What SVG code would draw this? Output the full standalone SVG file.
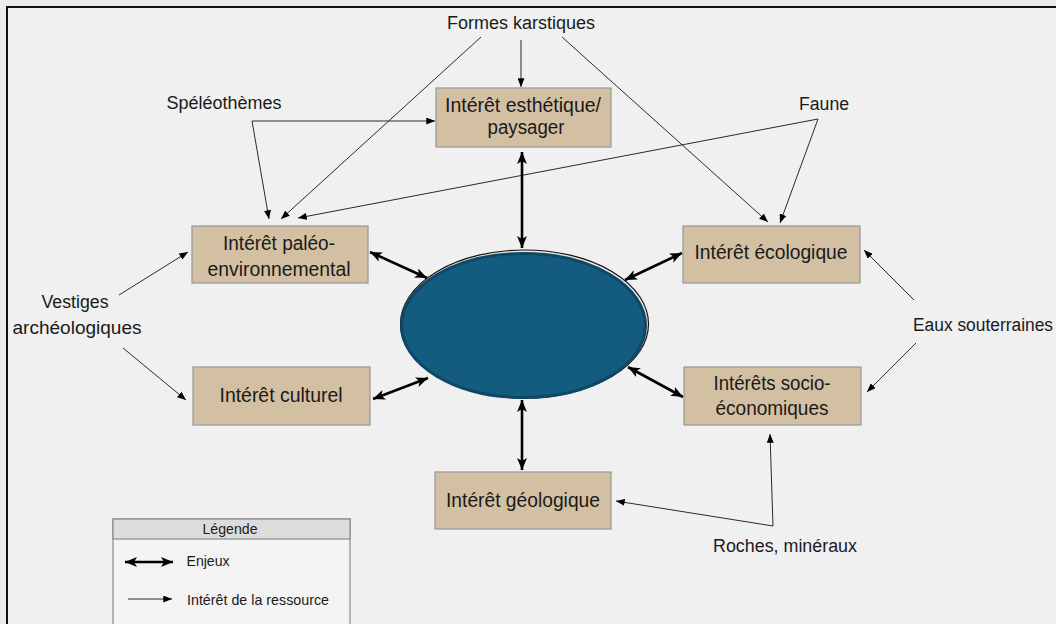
<svg xmlns="http://www.w3.org/2000/svg" width="1056" height="624" viewBox="0 0 1056 624">
<defs>
<style>
.bg{fill:#ececec}
.box{fill:#d3bfa2;stroke:#9c9c9c;stroke-width:1.3}
.t{font-family:"Liberation Sans Narrow","Liberation Sans",Arial,sans-serif;fill:#1a1a1a;text-anchor:middle}
.nt{font-size:20px}
.lb{font-size:18px}
.lg{font-size:15px}
.thin{stroke:#2a2a2a;stroke-width:1;fill:none;marker-end:url(#ah)}
.thick{stroke:#000;stroke-width:2.6;fill:none;marker-start:url(#ahb);marker-end:url(#ahb)}
</style>
<marker id="ah" markerUnits="userSpaceOnUse" viewBox="0 0 10 8" refX="10" refY="4" markerWidth="9" markerHeight="7" orient="auto"><path d="M0,0 L10,4 L0,8 Z" fill="#000"/></marker>
<marker id="ahb" markerUnits="userSpaceOnUse" viewBox="0 0 12 10" refX="12" refY="5" markerWidth="12" markerHeight="10" orient="auto-start-reverse"><path d="M0,0 L12,5 L0,10 L3,5 Z" fill="#000"/></marker>
</defs>
<rect class="bg" x="0" y="0" width="1056" height="624"/>
<rect x="7" y="7" width="1070" height="640" fill="#f0f0f0" stroke="#111" stroke-width="2"/>

<g id="center">
<ellipse cx="524.5" cy="324" rx="124" ry="74" fill="#e6e6e6" stroke="#111" stroke-width="1.2"/>
<ellipse cx="523.5" cy="325.5" rx="122" ry="72" fill="#145c7f" stroke="#0f4866" stroke-width="3"/>
</g>

<g id="connectors">
<line class="thin" x1="481" y1="37" x2="281" y2="219"/>
<line class="thin" x1="521" y1="40" x2="521" y2="87"/>
<line class="thin" x1="562" y1="37" x2="768" y2="222"/>
<line class="thin" x1="252" y1="121" x2="435" y2="121"/>
<line class="thin" x1="252" y1="121" x2="269" y2="219"/>
<line class="thin" x1="818" y1="119" x2="298" y2="218"/>
<line class="thin" x1="818" y1="119" x2="780" y2="223"/>
<line class="thin" x1="119" y1="295" x2="188" y2="252"/>
<line class="thin" x1="123" y1="348" x2="186" y2="400"/>
<line class="thin" x1="914" y1="300" x2="864" y2="250"/>
<line class="thin" x1="916" y1="343" x2="867" y2="392"/>
<line class="thin" x1="773" y1="526" x2="770" y2="434"/>
<line class="thin" x1="773" y1="526" x2="616" y2="501"/>
<line class="thick" x1="522" y1="152" x2="522" y2="248"/>
<line class="thick" x1="370" y1="252" x2="427" y2="278"/>
<line class="thick" x1="373" y1="399" x2="428" y2="378"/>
<line class="thick" x1="682" y1="253" x2="625" y2="280"/>
<line class="thick" x1="683" y1="397" x2="628" y2="367"/>
<line class="thick" x1="522" y1="400" x2="522" y2="470"/>
</g>

<g id="esthetique">
<rect class="box" x="436" y="88" width="175" height="59"/>
<text class="t nt" x="523" y="112" textLength="156" lengthAdjust="spacingAndGlyphs">Intérêt esthétique/</text>
<text class="t nt" x="526" y="134" textLength="77" lengthAdjust="spacingAndGlyphs">paysager</text>
</g>
<g id="paleo">
<rect class="box" x="192" y="226" width="176" height="57"/>
<text class="t nt" x="279" y="250" textLength="112" lengthAdjust="spacingAndGlyphs">Intérêt paléo-</text>
<text class="t nt" x="279" y="276" textLength="143" lengthAdjust="spacingAndGlyphs">environnemental</text>
</g>
<g id="culturel">
<rect class="box" x="193" y="367" width="177" height="58"/>
<text class="t nt" x="281" y="402" textLength="123" lengthAdjust="spacingAndGlyphs">Intérêt culturel</text>
</g>
<g id="ecologique">
<rect class="box" x="683" y="226" width="177" height="57"/>
<text class="t nt" x="771" y="259" textLength="153" lengthAdjust="spacingAndGlyphs">Intérêt écologique</text>
</g>
<g id="socio">
<rect class="box" x="684" y="367" width="177" height="58"/>
<text class="t nt" x="772" y="390" textLength="117" lengthAdjust="spacingAndGlyphs">Intérêts socio-</text>
<text class="t nt" x="772" y="415" textLength="113" lengthAdjust="spacingAndGlyphs">économiques</text>
</g>
<g id="geologique">
<rect class="box" x="435" y="472" width="176" height="57"/>
<text class="t nt" x="523" y="507" textLength="154" lengthAdjust="spacingAndGlyphs">Intérêt géologique</text>
</g>

<g id="labels">
<text class="t lb" x="521" y="29" textLength="148" lengthAdjust="spacingAndGlyphs">Formes karstiques</text>
<text class="t lb" x="224" y="109" textLength="115" lengthAdjust="spacingAndGlyphs">Spéléothèmes</text>
<text class="t lb" x="824" y="110" textLength="50" lengthAdjust="spacingAndGlyphs">Faune</text>
<text class="t lb" x="75" y="308" textLength="67" lengthAdjust="spacingAndGlyphs">Vestiges</text>
<text class="t lb" x="77" y="334" textLength="129" lengthAdjust="spacingAndGlyphs">archéologiques</text>
<text class="t lb" x="983" y="331" textLength="140" lengthAdjust="spacingAndGlyphs">Eaux souterraines</text>
<text class="t lb" x="785" y="552" textLength="144" lengthAdjust="spacingAndGlyphs">Roches, minéraux</text>
</g>

<g id="legend">
<rect x="113" y="519" width="237" height="120" fill="#f3f3f3" stroke="#8a8a8a" stroke-width="1.2"/>
<rect x="113" y="519" width="237" height="20" fill="#dcdcdc" stroke="#8a8a8a" stroke-width="1.2"/>
<text class="t lg" x="230" y="534" textLength="55" lengthAdjust="spacingAndGlyphs">Légende</text>
<line class="thick" x1="125" y1="562" x2="173" y2="562"/>
<text class="t lg" x="208" y="566" textLength="43" lengthAdjust="spacingAndGlyphs">Enjeux</text>
<line class="thin" x1="128" y1="599" x2="172" y2="599"/>
<text class="t lg" x="258" y="605" textLength="142" lengthAdjust="spacingAndGlyphs">Intérêt de la ressource</text>
</g>
</svg>
